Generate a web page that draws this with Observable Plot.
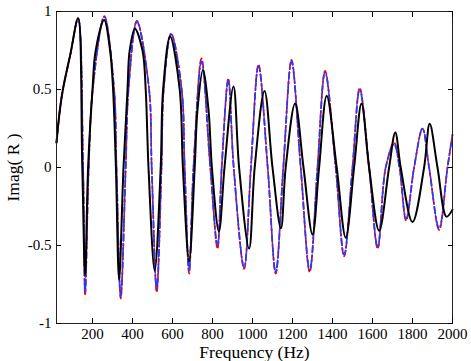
<!DOCTYPE html>
<html>
<head>
<meta charset="utf-8">
<script src="https://cdn.jsdelivr.net/npm/d3@7"></script>
<script src="https://cdn.jsdelivr.net/npm/@observablehq/plot@0.6"></script>
<style>
  html, body { margin: 0; padding: 0; background: white; }
  svg { display: block; }
  svg text, svg g[aria-label] { font-family: "Liberation Serif", "Times New Roman", serif !important; }
</style>
</head>
<body>
<div id="chart"></div>
<script>
// ---- data ----
const xTicks = [200, 400, 600, 800, 1000, 1200, 1400, 1600, 1800, 2000];
const yTicks = [-1, -0.5, 0, 0.5, 1];
const yTickLabels = ["-1", "-0.5", "0", "0.5", "1"];

const freqRed = [20, 36, 52, 90, 128, 153, 163, 181, 201, 259, 308, 320, 341, 366, 380, 422, 483, 496, 521, 545, 556, 593, 646, 661, 683, 705, 745, 789, 825, 846, 879, 906, 958, 992, 1030, 1076, 1116, 1154, 1195, 1241, 1286, 1325, 1363, 1416, 1458, 1500, 1536, 1583, 1626, 1666, 1708, 1735, 1768, 1808, 1850, 1883, 1933, 1975, 2000];
const imagRed = [0.16, 0.36, 0.5, 0.73, 0.956, 0, -0.82, 0, 0.5, 0.97, 0.5, 0, -0.84, 0, 0.5, 0.94, 0.5, 0, -0.80, 0, 0.5, 0.86, 0.5, 0, -0.68, 0, 0.70, 0, -0.52, 0, 0.57, 0, -0.65, 0, 0.66, 0, -0.68, 0, 0.69, 0, -0.67, 0, 0.62, 0, -0.57, 0, 0.51, 0, -0.52, 0, 0.16, 0, -0.34, 0, 0.25, 0, -0.40, 0, 0.21];

const freqBlue = [20, 36, 52, 90, 128, 153, 163, 181, 201, 259, 308, 320, 341, 366, 380, 422, 483, 496, 521, 545, 556, 593, 646, 661, 683, 705, 745, 789, 825, 846, 879, 906, 958, 992, 1030, 1076, 1116, 1154, 1195, 1241, 1286, 1325, 1363, 1416, 1458, 1500, 1536, 1583, 1626, 1666, 1708, 1735, 1768, 1808, 1850, 1883, 1933, 1975, 2000];
const imagBlue = [0.16, 0.36, 0.5, 0.73, 0.956, 0, -0.80, 0, 0.5, 0.965, 0.5, 0, -0.83, 0, 0.5, 0.935, 0.5, 0, -0.78, 0, 0.5, 0.855, 0.5, 0, -0.66, 0, 0.68, 0, -0.50, 0, 0.56, 0, -0.64, 0, 0.65, 0, -0.67, 0, 0.68, 0, -0.66, 0, 0.61, 0, -0.56, 0, 0.50, 0, -0.51, 0, 0.15, 0, -0.33, 0, 0.25, 0, -0.39, 0, 0.21];

const freqBlack = [20, 36, 52, 90, 128, 149, 163, 178, 200, 216, 258, 288, 303, 317, 333, 355, 375, 386, 412, 450, 466, 480, 511, 541, 553, 588, 636, 652, 683, 711, 725, 752, 780, 797, 832, 860, 905, 933, 983, 1011, 1060, 1100, 1142, 1166, 1213, 1255, 1300, 1333, 1371, 1421, 1466, 1508, 1545, 1583, 1633, 1683, 1714, 1741, 1800, 1858, 1886, 1925, 1970, 2000];
const imagBlack = [0.16, 0.36, 0.5, 0.73, 0.956, 0, -0.69, 0, 0.5, 0.75, 0.945, 0.75, 0.5, 0, -0.72, 0, 0.5, 0.75, 0.89, 0.75, 0.5, 0, -0.66, 0, 0.5, 0.84, 0.5, 0, -0.60, 0, 0.37, 0.625, 0.37, 0, -0.41, 0, 0.52, 0, -0.52, 0, 0.49, 0, -0.39, 0, 0.41, 0, -0.43, 0, 0.46, 0, -0.45, 0, 0.41, 0, -0.405, 0, 0.225, 0, -0.35, 0, 0.28, 0, -0.315, -0.27];

const toRows = (xs, ys) => xs.map((f, i) => ({f, v: ys[i]}));
const red = toRows(freqRed, imagRed);
const blue = toRows(freqBlue, imagBlue);
const black = toRows(freqBlack, imagBlack);

const font = "Liberation Serif";

const chart = Plot.plot({
  width: 471,
  height: 361,
  marginLeft: 56,
  marginRight: 19,
  marginTop: 11,
  marginBottom: 38,
  style: {fontFamily: font, fontSize: "15px", background: "white", color: "black"},
  x: {domain: [20, 2000]},
  y: {domain: [-1, 1]},
  marks: [
    Plot.line(red, {x: "f", y: "v", stroke: "#ff0000", strokeWidth: 1.7, strokeDasharray: "6,3", curve: "catmull-rom"}),
    Plot.line(blue, {x: "f", y: "v", stroke: "#1f3cff", strokeWidth: 1.7, strokeDasharray: "7,3,1.5,3", curve: "catmull-rom"}),
    Plot.line(black, {x: "f", y: "v", stroke: "black", strokeWidth: 2, curve: "catmull-rom"}),
    Plot.frame({stroke: "#222"}),
    Plot.axisX(xTicks, {anchor: "bottom", tickSize: 0, tickPadding: 5, fontFamily: font, tickFormat: d => String(d), label: "Frequency (Hz)", labelAnchor: "center", labelArrow: "none", labelOffset: 34}),
    Plot.axisX(xTicks, {anchor: "bottom", tickSize: -5, tickFormat: () => "", label: null}),
    Plot.axisX(xTicks, {anchor: "top", tickSize: -5, tickFormat: () => "", label: null}),
    Plot.axisY(yTicks, {anchor: "left", tickSize: 0, tickPadding: 5, fontFamily: font, tickFormat: d => yTickLabels[yTicks.indexOf(d)], label: "Imag( R )", labelAnchor: "center", labelArrow: "none", labelOffset: 50}),
    Plot.axisY(yTicks, {anchor: "left", tickSize: -5, tickFormat: () => "", label: null}),
    Plot.axisY(yTicks, {anchor: "right", tickSize: -5, tickFormat: () => "", label: null})
  ]
});
// axis titles are a little larger than the tick labels
d3.select(chart).selectAll('[aria-label="x-axis label"], [aria-label="y-axis label"]').attr("font-size", "17.5px");
document.getElementById("chart").appendChild(chart);
</script>
</body>
</html>
